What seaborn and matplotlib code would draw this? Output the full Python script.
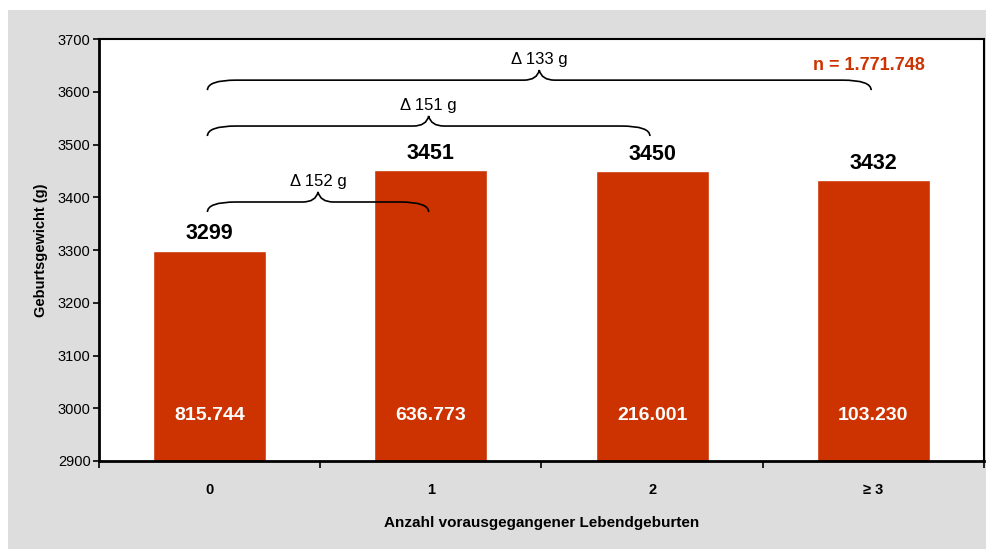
import pandas as pd
import matplotlib.pyplot as plt
import seaborn as sns
from matplotlib.path import Path
from matplotlib.patches import PathPatch, Rectangle

# Data
categories = ["0", "1", "2", "≥ 3"]
weights = [3299, 3451, 3450, 3432]
counts = ["815.744", "636.773", "216.001", "103.230"]
delta_targets = [1, 2, 3]          # brace from category 0 to these
delta_values = [152, 151, 133]
brace_levels = [3372, 3516, 3603]   # y where the brace ends sit
total_n = "1.771.748"

df = pd.DataFrame({"Anzahl": categories, "Gewicht": weights})

sns.set_style("white")
plt.rcParams["font.family"] = ["Liberation Sans", "DejaVu Sans"]
plt.rcParams.update({"text.color": "black", "axes.labelcolor": "black",
                     "xtick.color": "black", "ytick.color": "black"})

bar_color = "#cc3300"

fig = plt.figure(figsize=(9.87, 5.49), dpi=100)
fig.patch.set_facecolor("white")
# gray chart area behind the plot
fig.patches.append(Rectangle((8 / 987, 0), 1, 1 - 10 / 549, transform=fig.transFigure,
                             facecolor="#dddddd", edgecolor="none", zorder=-10))

ax = fig.add_axes([99 / 987, 1 - 461 / 549, (984 - 99) / 987, (461 - 39) / 549])
ax.set_facecolor("white")

sns.barplot(data=df, x="Anzahl", y="Gewicht", color=bar_color, width=0.51,
            saturation=1, ax=ax)

ax.set_ylim(2900, 3700)
ax.set_xlim(-0.5, len(categories) - 0.5)
ax.set_yticks(range(2900, 3701, 100))
ax.tick_params(axis="y", direction="out", length=4, width=1.2, labelsize=10.5, pad=2, left=True)
ax.set_xticks(range(len(categories)))
ax.set_xticklabels(categories, fontweight="bold", fontsize=10.5)
ax.tick_params(axis="x", length=0, pad=15.5)
ax.set_xticks([i - 0.5 for i in range(len(categories) + 1)], minor=True)
ax.tick_params(axis="x", which="minor", direction="out", length=5, width=1.2, bottom=True)

for s in ax.spines.values():
    s.set_color("black")
    s.set_linewidth(1.5)
ax.spines["left"].set_linewidth(2)
ax.spines["bottom"].set_linewidth(2)

ax.set_xlabel("Anzahl vorausgegangener Lebendgeburten", fontweight="bold", fontsize=11, labelpad=14)
ax.set_ylabel("Geburtsgewicht (g)", fontweight="bold", fontsize=10.5, labelpad=7)

# value labels
for i, (w, c) in enumerate(zip(weights, counts)):
    ax.text(i, w + 21, str(w), ha="center", va="baseline", fontsize=15.5, fontweight="bold")
    ax.text(i, 2978, c, ha="center", va="baseline", fontsize=14, fontweight="bold", color="white")


def brace(ax, x0, x1, y_end, rise=19):
    y_flat = y_end + rise
    y_tip = y_flat + rise
    xm = (x0 + x1) / 2
    de, dt = 0.13, 0.07
    verts = [(x0, y_end), (x0, y_flat), (x0 + de, y_flat),
             (xm - dt, y_flat),
             (xm - 0.01, y_flat), (xm, y_tip),
             (xm + 0.01, y_flat), (xm + dt, y_flat),
             (x1 - de, y_flat),
             (x1, y_flat), (x1, y_end)]
    codes = [Path.MOVETO, Path.CURVE3, Path.CURVE3,
             Path.LINETO,
             Path.CURVE3, Path.CURVE3,
             Path.CURVE3, Path.CURVE3,
             Path.LINETO,
             Path.CURVE3, Path.CURVE3]
    ax.add_patch(PathPatch(Path(verts, codes), facecolor="none", edgecolor="black", lw=1.2,
                           zorder=5))
    return xm, y_tip


for tgt, d, lvl in zip(delta_targets, delta_values, brace_levels):
    xm, ytip = brace(ax, -0.01, tgt - 0.01, lvl)
    ax.text(xm, ytip + 11, f"Δ {d} g", ha="center", va="baseline", fontsize=12)

ax.text(2.98, 3641, f"n = {total_n}", ha="center", va="baseline", fontsize=13,
        fontweight="bold", color=bar_color)

fig.savefig("out.png", dpi=100, facecolor=fig.get_facecolor())
